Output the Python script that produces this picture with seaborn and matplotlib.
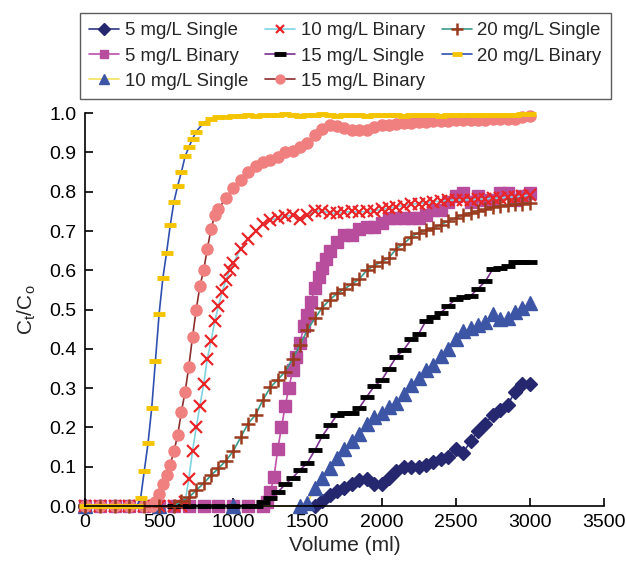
import matplotlib
matplotlib.use("Agg")
import matplotlib.pyplot as plt
import seaborn as sns
import numpy as np

# ---------------- data ----------------
x_5s = [0, 500, 1000, 1550, 1600, 1650, 1700, 1750, 1800, 1850, 1900, 1950, 2000, 2050, 2100, 2150,
        2200, 2250, 2300, 2350, 2400, 2450, 2500, 2550, 2600, 2650, 2700, 2750, 2800, 2850, 2900,
        2950, 3000]
y_5s = [0, 0, 0, 0, 0.012, 0.028, 0.038, 0.045, 0.055, 0.066, 0.07, 0.056, 0.055, 0.072, 0.09, 0.1,
        0.1, 0.1, 0.105, 0.113, 0.12, 0.125, 0.145, 0.135, 0.165, 0.19, 0.21, 0.232, 0.245, 0.258,
        0.29, 0.31, 0.31]

x_5b = [0, 100, 200, 300, 400, 500, 600, 700, 800, 900, 1000, 1100, 1200, 1225, 1250, 1275, 1300,
        1325, 1350, 1375, 1400, 1425, 1450, 1475, 1500, 1525, 1550, 1575, 1600, 1625, 1650, 1700,
        1750, 1800, 1850, 1900, 1950, 2000, 2050, 2100, 2150, 2200, 2250, 2300, 2350, 2400, 2450,
        2500, 2550, 2600, 2650, 2700, 2750, 2800, 2850, 2900, 2950, 3000]
y_5b = [0, 0, 0, 0, 0, 0, 0, 0, 0, 0, 0, 0, 0, 0.01, 0.035, 0.075, 0.145,
        0.2, 0.255, 0.3, 0.345, 0.38, 0.415, 0.457, 0.485, 0.52, 0.555, 0.583, 0.605, 0.63, 0.65, 0.672,
        0.69, 0.69, 0.705, 0.711, 0.711, 0.72, 0.732, 0.732, 0.732, 0.732, 0.732, 0.74, 0.753, 0.753, 0.775,
        0.79, 0.796, 0.775, 0.79, 0.78, 0.78, 0.796, 0.796, 0.78, 0.79, 0.796]

x_10s = [0, 500, 1000, 1450, 1500, 1550, 1600, 1650, 1700, 1750, 1800, 1850, 1900, 1950, 2000, 2050,
         2100, 2150, 2200, 2250, 2300, 2350, 2400, 2450, 2500, 2550, 2600, 2650, 2700, 2750, 2800,
         2850, 2900, 2950, 3000]
y_10s = [0, 0, 0, 0, 0.008, 0.045, 0.072, 0.098, 0.122, 0.146, 0.165, 0.183, 0.208, 0.226, 0.238, 0.252,
         0.262, 0.285, 0.308, 0.325, 0.345, 0.36, 0.382, 0.4, 0.425, 0.445, 0.452, 0.46, 0.468, 0.49, 0.475,
         0.478, 0.495, 0.505, 0.516]

x_10b = [0, 100, 200, 300, 400, 500, 600, 650, 675, 700, 725, 750, 775, 800, 825, 850, 875, 900, 925,
         950, 975, 1000, 1050, 1100, 1150, 1200, 1250, 1300, 1350, 1400, 1450, 1500, 1550, 1600, 1650,
         1700, 1750, 1800, 1850, 1900, 1950, 2000, 2050, 2100, 2150, 2200, 2250, 2300, 2350, 2400,
         2450, 2500, 2550, 2600, 2650, 2700, 2750, 2800, 2850, 2900, 2950, 3000]
y_10b = [0, 0, 0, 0, 0, 0, 0, 0, 0.01, 0.07, 0.14, 0.2, 0.255, 0.31, 0.375, 0.42, 0.47, 0.51, 0.545,
         0.575, 0.6, 0.618, 0.655, 0.68, 0.7, 0.718, 0.728, 0.733, 0.738, 0.74, 0.73, 0.742, 0.75, 0.752, 0.745,
         0.746, 0.748, 0.75, 0.748, 0.75, 0.752, 0.755, 0.758, 0.762, 0.765, 0.768, 0.77, 0.772, 0.775, 0.776,
         0.778, 0.779, 0.779, 0.78, 0.781, 0.782, 0.783, 0.784, 0.786, 0.787, 0.789, 0.791]

x_15s = [0, 300, 600, 700, 800, 900, 1000, 1100, 1150, 1200, 1250, 1300, 1350, 1400, 1450, 1500, 1550,
         1600, 1650, 1700, 1750, 1800, 1850, 1900, 1950, 2000, 2050, 2100, 2150, 2200, 2250, 2300,
         2350, 2400, 2450, 2500, 2550, 2600, 2650, 2700, 2750, 2800, 2850, 2900, 2950, 3000]
y_15s = [0, 0, 0, 0, 0, 0, 0, 0, 0, 0.01, 0.02, 0.035, 0.055, 0.072, 0.092, 0.11, 0.142,
         0.178, 0.205, 0.232, 0.238, 0.237, 0.25, 0.278, 0.305, 0.32, 0.35, 0.38, 0.398, 0.424, 0.438, 0.472,
         0.48, 0.492, 0.51, 0.527, 0.532, 0.535, 0.553, 0.572, 0.603, 0.607, 0.61, 0.622, 0.622, 0.622]

x_15b = [0, 100, 200, 300, 400, 450, 475, 500, 525, 550, 575, 600, 625, 650, 675, 700, 725, 750, 775,
         800, 825, 850, 875, 900, 950, 1000, 1050, 1100, 1150, 1200, 1250, 1300, 1350, 1400, 1450,
         1500, 1550, 1600, 1650, 1700, 1750, 1800, 1850, 1900, 1950, 2000, 2050, 2100, 2150, 2200,
         2250, 2300, 2350, 2400, 2450, 2500, 2550, 2600, 2650, 2700, 2750, 2800, 2850, 2900, 2950, 3000]
y_15b = [0, 0, 0, 0, 0, 0, 0.01, 0.03, 0.055, 0.08, 0.105, 0.14, 0.18, 0.24, 0.29, 0.355, 0.43, 0.5, 0.56,
         0.6, 0.655, 0.705, 0.74, 0.755, 0.785, 0.81, 0.83, 0.85, 0.865, 0.875, 0.88, 0.888, 0.9, 0.905, 0.915,
         0.925, 0.945, 0.96, 0.97, 0.968, 0.962, 0.958, 0.957, 0.958, 0.966, 0.97, 0.971, 0.972, 0.974, 0.976,
         0.977, 0.978, 0.979, 0.98, 0.981, 0.982, 0.982, 0.982, 0.983, 0.983, 0.984, 0.984, 0.985, 0.986, 0.99, 0.993]

x_20s = [0, 100, 200, 300, 400, 500, 600, 650, 700, 750, 800, 850, 900, 950, 1000, 1050, 1100, 1150,
         1200, 1250, 1300, 1350, 1400, 1450, 1500, 1550, 1600, 1650, 1700, 1750, 1800, 1850, 1900,
         1950, 2000, 2050, 2100, 2150, 2200, 2250, 2300, 2350, 2400, 2450, 2500, 2550, 2600, 2650,
         2700, 2750, 2800, 2850, 2900, 2950, 3000]
y_20s = [0, 0, 0, 0, 0, 0, 0, 0.012, 0.022, 0.04, 0.058, 0.078, 0.096, 0.115, 0.14, 0.175, 0.21, 0.232,
         0.27, 0.302, 0.322, 0.342, 0.375, 0.41, 0.448, 0.478, 0.505, 0.525, 0.541, 0.553, 0.565, 0.578, 0.6,
         0.612, 0.622, 0.632, 0.655, 0.668, 0.685, 0.696, 0.702, 0.708, 0.716, 0.726, 0.733, 0.742, 0.747, 0.751,
         0.755, 0.76, 0.765, 0.767, 0.769, 0.77, 0.772]

x_20b = [0, 50, 100, 150, 200, 250, 300, 350, 375, 400, 425, 450, 475, 500, 525, 550, 575, 600, 625,
         650, 675, 700, 725, 750, 800, 850, 900, 950, 1000, 1050, 1100, 1150, 1200, 1250, 1300, 1350,
         1400, 1450, 1500, 1550, 1600, 1650, 1700, 1750, 1800, 1850, 1900, 1950, 2000, 2050, 2100,
         2150, 2200, 2250, 2300, 2350, 2400, 2450, 2500, 2550, 2600, 2650, 2700, 2750, 2800, 2850,
         2900, 2950, 3000]
y_20b = [0, 0, 0, 0, 0, 0, 0, 0, 0.02, 0.09, 0.16, 0.25, 0.37, 0.49, 0.58, 0.645, 0.715, 0.775, 0.815,
         0.85, 0.89, 0.913, 0.935, 0.953, 0.976, 0.985, 0.99, 0.99, 0.993, 0.994, 0.995, 0.993, 0.996, 0.995, 0.995, 0.997,
         0.995, 0.994, 0.996, 0.995, 0.997, 0.995, 0.994, 0.995, 0.996, 0.995, 0.994, 0.995, 0.995, 0.996, 0.995,
         0.994, 0.995, 0.996, 0.995, 0.995, 0.994, 0.995, 0.996, 0.995, 0.995, 0.996, 0.995, 0.995, 0.996, 0.996,
         0.996, 0.997, 0.998]

labels = ["5 mg/L Single", "5 mg/L Binary", "10 mg/L Single", "10 mg/L Binary",
          "15 mg/L Single", "15 mg/L Binary", "20 mg/L Single", "20 mg/L Binary"]
xs = [x_5s, x_5b, x_10s, x_10b, x_15s, x_15b, x_20s, x_20b]
ys = [y_5s, y_5b, y_10s, y_10b, y_15s, y_15b, y_20s, y_20b]

styles = [
    dict(color="#2e3380", marker="D", mfc="#25286e", mec="#25286e", ms=7.5, mew=1),
    dict(color="#c050a8", marker="s", mfc="#b84d9e", mec="#b84d9e", ms=8, mew=1),
    dict(color="#f3e25a", marker="^", mfc="#3d55a5", mec="#3d55a5", ms=9.5, mew=1),
    dict(color="#7fd3df", marker="x", mfc="#e8262a", mec="#e8262a", ms=8, mew=1.6),
    dict(color="#7a2f8c", marker="_", mfc="black", mec="black", ms=10, mew=3.5),
    dict(color="#8b2e2e", marker="o", mfc="#f08080", mec="#f08080", ms=8, mew=1),
    dict(color="#3a9a8a", marker="+", mfc="#9a3a1e", mec="#9a3a1e", ms=10, mew=1.8),
    dict(color="#3050b0", marker="_", mfc="#f5c400", mec="#f5c400", ms=9, mew=3.5),
]

# ---------------- plot ----------------
sns.set_style("ticks")
plt.rcParams["font.family"] = ["Liberation Sans", "DejaVu Sans"]

fig = plt.figure(figsize=(6.26, 5.66), dpi=100)
ax = fig.add_axes([0.1358, 0.106, 0.829, 0.694])

for x, y, lab, st in zip(xs, ys, labels, styles):
    sns.lineplot(x=x, y=y, ax=ax, color=st["color"], linewidth=1.2,
                 marker=st["marker"], markerfacecolor=st["mfc"], markeredgecolor=st["mec"],
                 markersize=st["ms"], markeredgewidth=st["mew"], clip_on=False, label=lab,
                 legend=False, estimator=None, sort=False)

hs = ax.get_lines()
ax.set_xlim(0, 3500)
ax.set_ylim(0, 1.0)
ax.set_xticks(np.arange(0, 3501, 500))
ax.set_yticks(np.arange(0, 1.01, 0.1))
ax.set_yticklabels([f"{v:.1f}" for v in np.arange(0, 1.01, 0.1)])
ax.tick_params(direction="in", length=6, width=1.2, labelsize=14, colors="black", pad=6)
for s in ["top", "right"]:
    ax.spines[s].set_visible(False)
for s in ["left", "bottom"]:
    ax.spines[s].set_linewidth(1.2)
    ax.spines[s].set_color("black")

ax.set_xlabel("Volume (ml)", fontsize=15, labelpad=3)
ax.set_ylabel(r"C$_\mathregular{t}$/C$_\mathregular{o}$", fontsize=15, labelpad=8)

leg = fig.legend(hs, labels, loc="upper left", bbox_to_anchor=(80 / 626, 1 - 13 / 566), ncol=3,
                 fontsize=13.4, frameon=True, fancybox=False, edgecolor="#333333",
                 handlelength=1.62, handletextpad=0.28, columnspacing=0.92, labelspacing=0.44,
                 borderpad=0.5, borderaxespad=0, markerscale=0.8)
leg.get_frame().set_linewidth(1.0)

fig.savefig("out.png", dpi=100)
